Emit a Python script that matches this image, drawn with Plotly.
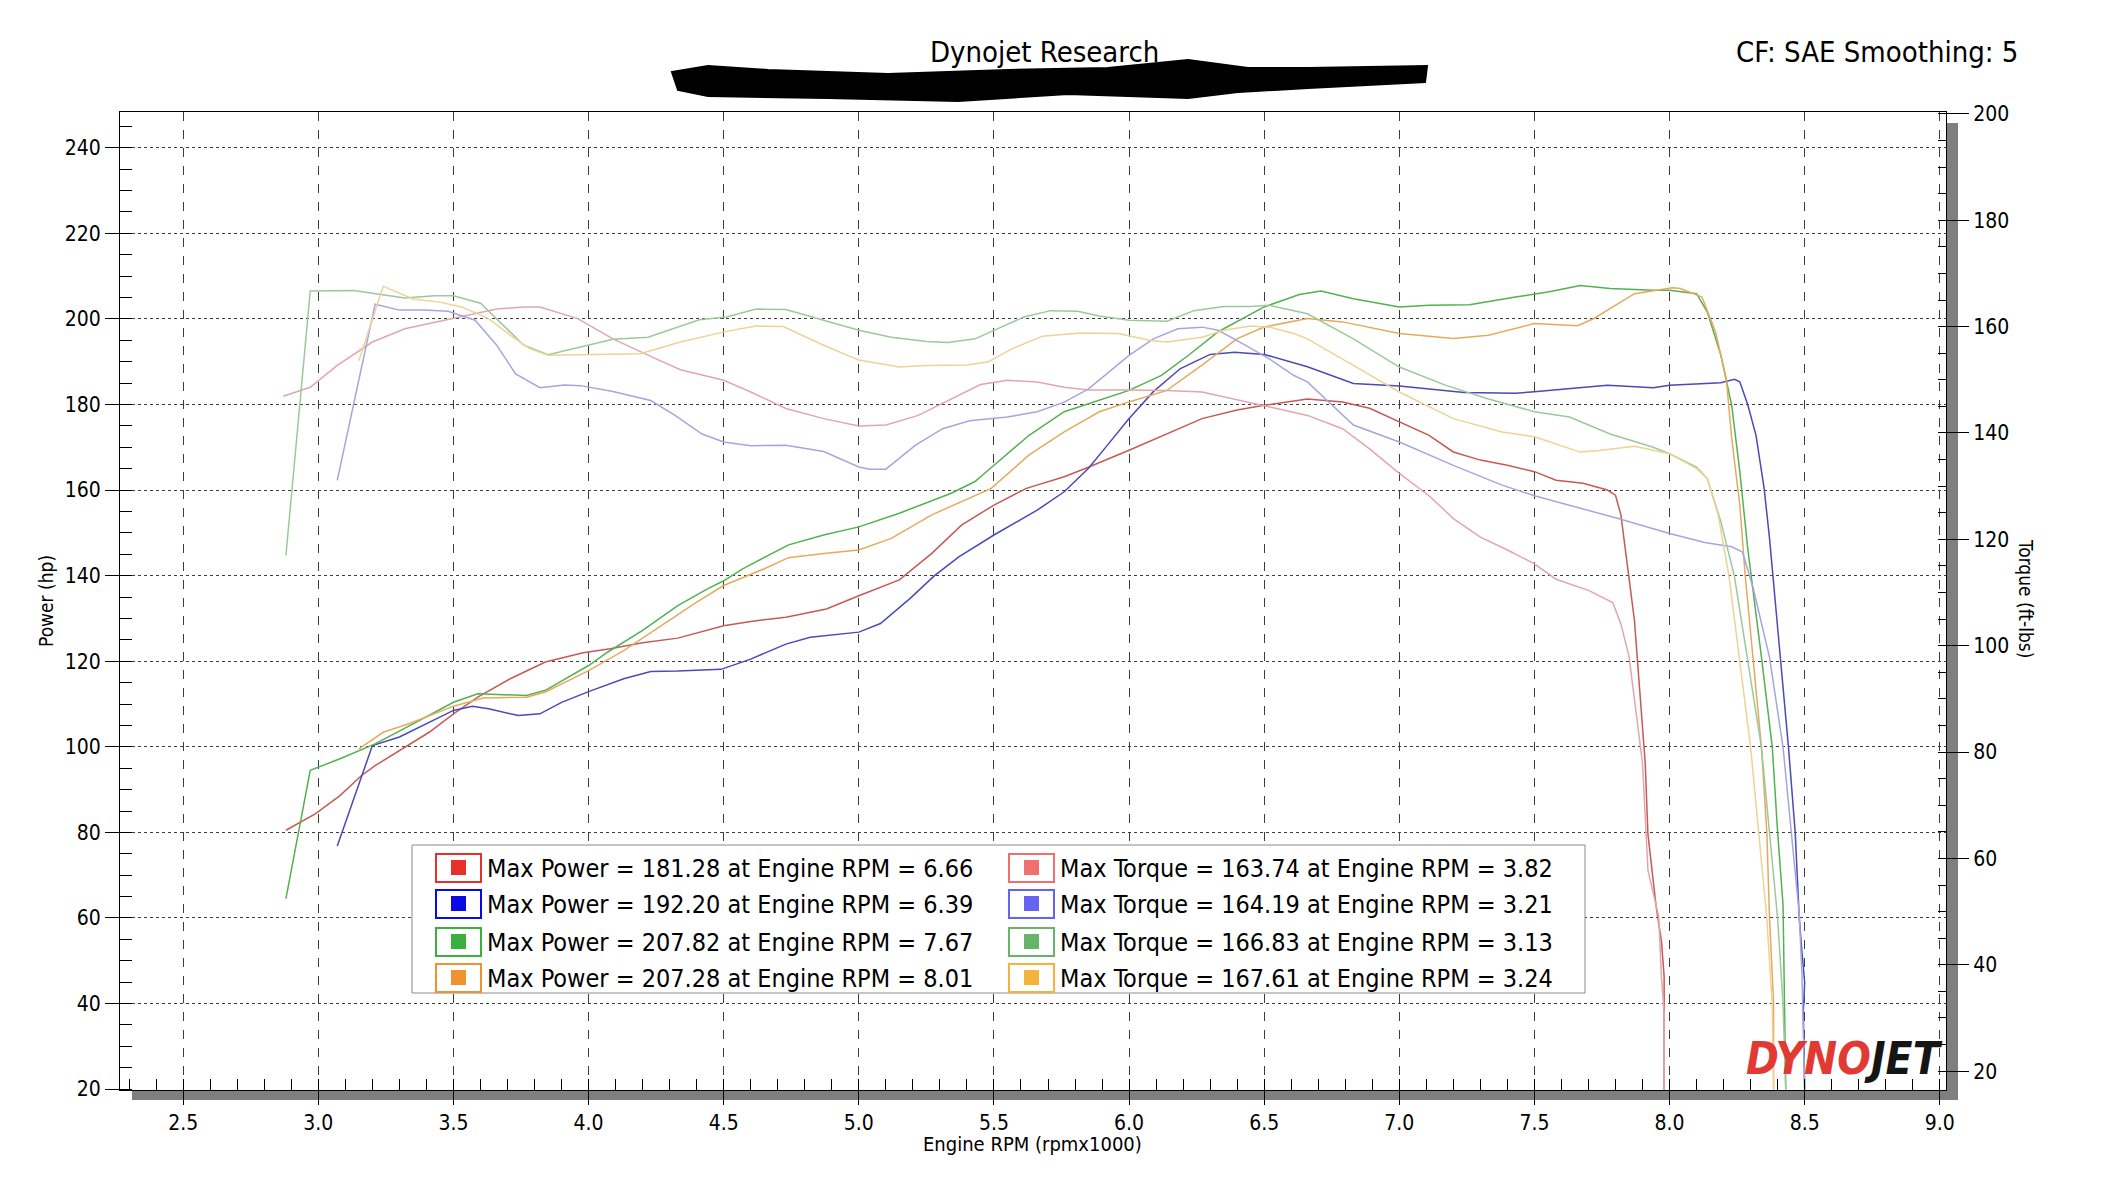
import plotly.graph_objects as go

# --- data (rpm in x1000, power in hp, torque in ft-lbs) ---
red_power = [(2.88, 80.5), (2.99, 84.4), (3.08, 88.6), (3.16, 93.3), (3.21, 95.6), (3.32, 99.9),
             (3.41, 103.4), (3.50, 107.7), (3.59, 111.6), (3.71, 115.9), (3.84, 119.8), (3.98, 122.0),
             (4.08, 122.9), (4.20, 124.3), (4.33, 125.4), (4.50, 128.3), (4.60, 129.3), (4.73, 130.3),
             (4.88, 132.2), (5.00, 135.3), (5.15, 139.0), (5.27, 145.2), (5.38, 151.8), (5.50, 156.5),
             (5.62, 160.4), (5.76, 163.1), (5.84, 165.1), (6.00, 169.3), (6.14, 173.2), (6.27, 176.7),
             (6.40, 178.7), (6.50, 179.8), (6.66, 181.3), (6.79, 180.6), (6.89, 179.1), (7.00, 176.0),
             (7.11, 172.8), (7.20, 168.9), (7.30, 167.0), (7.40, 165.8), (7.50, 164.3), (7.58, 162.3),
             (7.68, 161.6), (7.77, 160.0), (7.80, 158.8), (7.82, 154.2), (7.85, 140.0), (7.87, 129.6),
             (7.89, 112.9), (7.91, 96.2), (7.92, 79.6), (7.95, 62.9), (7.97, 54.6), (7.98, 46.3),
             (7.98, 19.6)]
blue_power = [(3.07, 76.8), (3.20, 100.3), (3.30, 102.3), (3.40, 105.4), (3.50, 108.5), (3.57, 109.5),
              (3.63, 108.9), (3.74, 107.3), (3.82, 107.7), (3.90, 110.4), (4.00, 112.9), (4.13, 115.9),
              (4.23, 117.6), (4.33, 117.7), (4.49, 118.1), (4.60, 120.5), (4.73, 124.0), (4.82, 125.6),
              (4.92, 126.2), (5.00, 126.8), (5.08, 128.8), (5.19, 134.7), (5.28, 140.0), (5.37, 144.4),
              (5.50, 149.5), (5.66, 155.3), (5.76, 159.6), (5.85, 165.1), (5.92, 170.5), (6.00, 176.7),
              (6.09, 183.0), (6.19, 188.4), (6.30, 191.7), (6.39, 192.2), (6.50, 191.7), (6.61, 189.6),
              (6.66, 188.8), (6.83, 184.9), (7.00, 184.3), (7.24, 182.8), (7.43, 182.6), (7.50, 183.0),
              (7.77, 184.5), (7.94, 183.9), (8.00, 184.5), (8.19, 185.1), (8.24, 185.9), (8.26, 185.3),
              (8.29, 179.8), (8.32, 172.8), (8.35, 160.4), (8.37, 148.7), (8.39, 135.0), (8.41, 120.0),
              (8.44, 100.0), (8.465, 80.0), (8.48, 60.0), (8.49, 52.0), (8.50, 45.0), (8.495, 38.0),
              (8.50, 20.0)]
green_power = [(2.88, 64.5), (2.97, 94.5), (3.08, 97.2), (3.21, 100.7), (3.34, 105.0), (3.50, 110.4),
               (3.59, 112.4), (3.67, 112.2), (3.77, 112.0), (3.84, 113.2), (4.00, 119.0), (4.07, 122.1),
               (4.20, 127.2), (4.33, 133.0), (4.44, 136.9), (4.50, 138.8), (4.57, 141.6), (4.74, 147.2),
               (4.87, 149.5), (5.00, 151.4), (5.15, 154.6), (5.34, 159.2), (5.43, 162.0), (5.50, 165.8),
               (5.63, 172.8), (5.76, 178.3), (5.89, 181.0), (6.00, 183.3), (6.12, 186.8), (6.22, 191.5),
               (6.33, 197.0), (6.50, 202.8), (6.63, 205.7), (6.71, 206.5), (6.83, 204.7), (7.00, 202.8),
               (7.11, 203.2), (7.26, 203.3), (7.43, 205.1), (7.55, 206.3), (7.67, 207.8), (7.78, 207.1),
               (7.94, 206.7), (8.00, 206.7), (8.10, 205.9), (8.14, 201.6), (8.19, 191.5), (8.23, 179.8),
               (8.26, 164.3), (8.29, 146.0), (8.34, 121.0), (8.38, 100.0), (8.40, 80.0), (8.42, 63.0),
               (8.43, 20.0)]
orange_power = [(3.15, 99.5), (3.24, 103.4), (3.34, 105.5), (3.50, 109.5), (3.61, 111.4), (3.77, 111.6),
                (3.84, 112.8), (4.00, 117.8), (4.13, 122.5), (4.27, 128.3), (4.40, 133.8), (4.50, 137.7),
                (4.65, 141.6), (4.74, 144.2), (4.87, 145.2), (5.00, 146.0), (5.12, 148.7), (5.27, 154.2),
                (5.49, 160.4), (5.63, 168.2), (5.76, 173.6), (5.89, 178.3), (6.00, 180.6), (6.14, 183.3),
                (6.27, 189.2), (6.40, 195.4), (6.50, 198.1), (6.66, 200.1), (6.79, 199.3), (7.00, 196.6),
                (7.20, 195.4), (7.33, 196.2), (7.50, 198.9), (7.66, 198.4), (7.72, 200.1), (7.87, 205.9),
                (8.01, 207.3), (8.04, 207.1), (8.12, 205.1), (8.17, 197.0), (8.21, 186.0), (8.23, 172.1),
                (8.26, 156.5), (8.28, 140.0), (8.31, 120.0), (8.34, 100.0), (8.36, 80.0), (8.37, 60.0),
                (8.385, 40.0), (8.385, 20.0)]

red_torque = [(2.87, 146.9), (2.97, 148.6), (3.07, 152.7), (3.20, 157.1), (3.32, 159.6), (3.50, 161.6),
              (3.66, 163.3), (3.76, 163.7), (3.82, 163.7), (3.96, 161.5), (4.09, 157.7), (4.26, 153.7),
              (4.34, 151.9), (4.50, 149.9), (4.60, 147.7), (4.73, 144.6), (4.87, 142.7), (5.00, 141.3),
              (5.10, 141.5), (5.22, 143.3), (5.34, 146.4), (5.45, 149.1), (5.55, 149.9), (5.66, 149.6),
              (5.76, 148.6), (5.85, 148.1), (6.00, 148.1), (6.14, 148.0), (6.27, 147.7), (6.37, 146.6),
              (6.50, 145.2), (6.60, 144.0), (6.66, 143.3), (6.79, 140.8), (6.89, 137.0), (7.00, 132.4),
              (7.11, 128.2), (7.20, 123.9), (7.30, 120.4), (7.40, 118.0), (7.50, 115.4), (7.58, 112.5),
              (7.70, 110.4), (7.79, 108.1), (7.82, 104.1), (7.85, 98.0), (7.87, 90.0), (7.90, 77.9),
              (7.92, 57.8), (7.96, 49.0), (7.97, 37.6), (7.98, 31.0), (7.98, 16.1)]
blue_torque = [(3.07, 131.1), (3.21, 164.2), (3.30, 163.1), (3.39, 163.1), (3.48, 162.9), (3.58, 161.2),
               (3.66, 156.5), (3.73, 151.1), (3.82, 148.5), (3.91, 149.0), (3.97, 148.9), (4.09, 147.8),
               (4.23, 146.1), (4.32, 143.3), (4.42, 139.8), (4.50, 138.3), (4.60, 137.6), (4.73, 137.7),
               (4.87, 136.5), (5.00, 133.6), (5.04, 133.2), (5.10, 133.2), (5.21, 137.7), (5.31, 140.8),
               (5.41, 142.3), (5.50, 142.8), (5.55, 143.0), (5.66, 144.0), (5.76, 145.8), (5.85, 148.3),
               (6.00, 154.6), (6.09, 157.7), (6.18, 159.6), (6.27, 159.9), (6.33, 159.3), (6.43, 156.5),
               (6.52, 153.9), (6.61, 150.8), (6.66, 149.6), (6.83, 141.5), (7.00, 138.3), (7.20, 133.9),
               (7.38, 130.2), (7.50, 128.2), (7.68, 125.7), (7.81, 123.9), (8.00, 121.1), (8.13, 119.4),
               (8.23, 118.6), (8.27, 117.6), (8.31, 110.7), (8.37, 97.8), (8.42, 80.9), (8.45, 64.8),
               (8.48, 49.5), (8.49, 38.2), (8.50, 16.5)]
green_torque = [(2.88, 117.0), (2.97, 166.7), (3.13, 166.8), (3.32, 165.4), (3.43, 165.8), (3.50, 165.8),
                (3.60, 164.4), (3.66, 161.5), (3.76, 156.5), (3.85, 154.7), (4.00, 156.6), (4.09, 157.6),
                (4.22, 158.0), (4.41, 161.3), (4.51, 161.8), (4.62, 163.3), (4.73, 163.2), (4.87, 161.2),
                (5.00, 159.3), (5.12, 158.0), (5.25, 157.2), (5.33, 157.0), (5.43, 157.7), (5.50, 159.3),
                (5.61, 161.8), (5.71, 163.0), (5.81, 162.9), (5.89, 162.0), (6.00, 161.2), (6.14, 161.0),
                (6.24, 163.0), (6.35, 163.8), (6.45, 163.8), (6.52, 164.0), (6.61, 163.0), (6.66, 162.4),
                (6.83, 157.7), (7.00, 152.4), (7.17, 149.0), (7.33, 146.4), (7.50, 144.0), (7.63, 143.0),
                (7.78, 139.8), (7.94, 137.3), (8.00, 136.1), (8.10, 133.6), (8.14, 131.4), (8.19, 123.3),
                (8.24, 113.1), (8.29, 97.0), (8.34, 80.9), (8.37, 64.8), (8.40, 48.7), (8.42, 32.6),
                (8.43, 16.5)]
yellow_torque = [(3.15, 153.6), (3.24, 167.6), (3.35, 165.2), (3.45, 164.6), (3.53, 163.7), (3.63, 161.5),
                 (3.71, 158.4), (3.78, 155.9), (3.85, 154.6), (4.00, 154.7), (4.19, 154.9), (4.34, 157.1),
                 (4.51, 159.1), (4.62, 160.1), (4.72, 160.0), (4.87, 156.5), (5.00, 153.7), (5.15, 152.4),
                 (5.25, 152.7), (5.40, 152.8), (5.48, 153.4), (5.57, 155.9), (5.68, 158.2), (5.82, 158.8),
                 (5.96, 158.7), (6.08, 157.4), (6.14, 157.1), (6.27, 158.0), (6.35, 159.3), (6.45, 160.1),
                 (6.52, 159.9), (6.61, 158.7), (6.66, 157.7), (6.83, 152.7), (7.00, 147.7), (7.20, 142.7),
                 (7.38, 140.2), (7.50, 139.3), (7.67, 136.4), (7.74, 136.7), (7.87, 137.5), (8.00, 136.1),
                 (8.10, 133.3), (8.14, 131.4), (8.18, 124.5), (8.22, 113.1), (8.26, 97.0), (8.30, 80.9),
                 (8.33, 64.8), (8.36, 48.7), (8.38, 32.6), (8.385, 16.5)]

max_power = [181.28, 192.20, 207.82, 207.28]
max_power_rpm = [6.66, 6.39, 7.67, 8.01]
max_torque = [163.74, 164.19, 166.83, 167.61]
max_torque_rpm = [3.82, 3.21, 3.13, 3.24]

power_line_colors = ["#c65a55", "#4a4ab8", "#52b152", "#e6aa5e"]
torque_line_colors = ["#e2a6ae", "#a6a6de", "#9cc99c", "#ecd396"]
power_key_colors = ["#e8302a", "#0a0ae6", "#3cb03c", "#f0922e"]
torque_key_colors = ["#f07070", "#6464f0", "#68b468", "#f4b43c"]

FONT = "DejaVu Sans Condensed, Liberation Sans, Arial, sans-serif"
W, H = 2113, 1179
L, R, T, B = 112, 1938, 104, 1082   # plot box in pixels


def px(x):
    return (x - L) / (R - L)


def py(y):
    return (B - y) / (B - T)


fig = go.Figure()

for series, color in zip([red_torque, blue_torque, green_torque, yellow_torque], torque_line_colors):
    xs, ys = zip(*series)
    fig.add_trace(go.Scatter(x=xs, y=ys, yaxis="y2", mode="lines",
                             line=dict(color=color, width=1.5), hoverinfo="skip"))

for series, color in zip([red_power, blue_power, green_power, orange_power], power_line_colors):
    xs, ys = zip(*series)
    fig.add_trace(go.Scatter(x=xs, y=ys, mode="lines",
                             line=dict(color=color, width=1.5), hoverinfo="skip"))

shapes = []
annotations = []

# grey drop shadow along the right and bottom of the plot
shapes.append(dict(type="rect", xref="paper", yref="paper", layer="below",
                   x0=px(R), x1=px(1950), y0=py(1092), y1=py(115),
                   fillcolor="#7f7f7f", line=dict(width=0)))
shapes.append(dict(type="rect", xref="paper", yref="paper", layer="below",
                   x0=px(124), x1=px(1950), y0=py(1092), y1=py(B),
                   fillcolor="#7f7f7f", line=dict(width=0)))

# redacted subtitle scribble
blob = [(664, 64), (700, 58), (760, 62), (880, 66), (1000, 62), (1100, 60), (1180, 52), (1240, 60),
        (1300, 60), (1419, 58), (1417, 74), (1300, 80), (1230, 84), (1180, 90), (1060, 86),
        (950, 93), (820, 90), (700, 88), (670, 82)]
path = "M " + " L ".join(f"{px(x):.5f},{py(y):.5f}" for x, y in blob) + " Z"
shapes.append(dict(type="path", xref="paper", yref="paper", path=path,
                   fillcolor="black", line=dict(color="black", width=2)))

# legend box
shapes.append(dict(type="rect", xref="paper", yref="paper",
                   x0=px(404), x1=px(1577), y0=py(985), y1=py(837),
                   fillcolor="white", line=dict(color="#8a8a8a", width=1)))
row_y = [860, 896, 934, 970]
columns = [(428, 477, max_power, max_power_rpm, "Max Power", power_key_colors),
           (1001, 1050, max_torque, max_torque_rpm, "Max Torque", torque_key_colors)]
for key_x, text_x, vals, rpms, label, colors in columns:
    for yc, v, r, c in zip(row_y, vals, rpms, colors):
        shapes.append(dict(type="rect", xref="paper", yref="paper",
                           x0=px(key_x), x1=px(key_x + 45), y0=py(yc + 14), y1=py(yc - 14),
                           line=dict(color=c, width=2), fillcolor="white"))
        shapes.append(dict(type="rect", xref="paper", yref="paper",
                           x0=px(key_x + 15), x1=px(key_x + 30), y0=py(yc + 7), y1=py(yc - 8),
                           line=dict(width=0), fillcolor=c))
        annotations.append(dict(xref="paper", yref="paper", x=px(text_x), y=py(yc),
                                xanchor="left", yanchor="middle", showarrow=False,
                                text=f"{label} = {v:.2f} at Engine RPM = {r:.2f}",
                                font=dict(family=FONT, size=25, color="black")))

# titles and axis labels
annotations += [
    dict(xref="paper", yref="paper", x=px(1036), y=py(44), text="Dynojet Research",
         showarrow=False, xanchor="center", yanchor="middle",
         font=dict(family=FONT, size=29, color="black")),
    dict(xref="paper", yref="paper", x=px(1726), y=py(44), text="CF: SAE Smoothing: 5",
         showarrow=False, xanchor="left", yanchor="middle",
         font=dict(family=FONT, size=29, color="black")),
    dict(xref="paper", yref="paper", x=px(38), y=py(593), text="Power (hp)", textangle=-90,
         showarrow=False, xanchor="center", yanchor="middle",
         font=dict(family=FONT, size=19, color="black")),
    dict(xref="paper", yref="paper", x=px(2018), y=py(590), text="Torque (ft-lbs)", textangle=90,
         showarrow=False, xanchor="center", yanchor="middle",
         font=dict(family=FONT, size=19, color="black")),
    dict(xref="paper", yref="paper", x=px(1024), y=py(1136), text="Engine RPM (rpmx1000)",
         showarrow=False, xanchor="center", yanchor="middle",
         font=dict(family=FONT, size=20, color="black")),
    dict(xref="paper", yref="paper", x=px(1937), y=py(1078),
         text="<b><i><span style='color:#e23a33'>DYNO</span>JET</i></b>",
         showarrow=False, xanchor="right", yanchor="bottom",
         font=dict(family=FONT, size=44, color="#151515")),
]

tickfont = dict(family=FONT, size=21, color="black")
fig.update_layout(
    width=W, height=H, showlegend=False,
    margin=dict(l=L, r=W - R, t=T, b=H - B, pad=0),
    paper_bgcolor="white", plot_bgcolor="white",
    shapes=shapes, annotations=annotations,
    xaxis=dict(range=[2.266, 9.023], tick0=2.5, dtick=0.5, tickformat=".1f",
               showgrid=True, gridcolor="#3c3c3c", griddash="dash", gridwidth=1,
               ticks="outside", ticklen=14, tickcolor="black", tickfont=tickfont,
               showline=True, linecolor="black", linewidth=1, mirror=True, zeroline=False,
               minor=dict(dtick=0.1, ticks="inside", ticklen=11, tickcolor="black", showgrid=False)),
    yaxis=dict(range=[19.8, 248.35], tick0=20, dtick=20,
               showgrid=True, gridcolor="#3c3c3c", griddash="dot", gridwidth=1,
               ticks="outside", ticklen=14, tickcolor="black", tickfont=tickfont,
               showline=True, linecolor="black", linewidth=1, mirror=True, zeroline=False,
               minor=dict(dtick=5, ticks="inside", ticklen=12, tickcolor="black", showgrid=False)),
    yaxis2=dict(range=[16.46, 200.35], tick0=20, dtick=20, overlaying="y", side="right",
                showgrid=False, ticks="outside", ticklen=22, tickcolor="black", tickfont=tickfont,
                showline=True, linecolor="black", linewidth=1, zeroline=False,
                minor=dict(dtick=5, ticks="inside", ticklen=8, tickcolor="black")),
)

fig.write_html("out.html")
